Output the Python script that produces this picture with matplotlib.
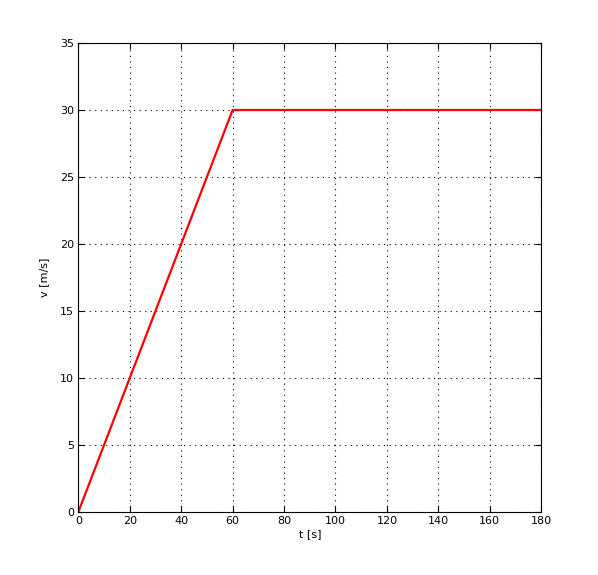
import matplotlib
matplotlib.use("Agg")
from matplotlib import pyplot as plt

# velocity profile: accelerate then constant speed
t = [0, 60, 180]
v = [0, 30, 30]

x_ticks = [0, 20, 40, 60, 80, 100, 120, 140, 160, 180]
y_ticks = [0, 5, 10, 15, 20, 25, 30, 35]

plt.rcParams['font.family'] = ['DejaVu Sans']
plt.rcParams['font.size'] = 8

f = plt.figure(figsize=(5.98, 5.75), dpi=100)
ax = f.add_axes([0.131, 0.1096, 0.774, 0.8156])

ax.plot(t, v, color='red', linewidth=1.6)

ax.set_xlim(0, 180)
ax.set_ylim(0, 35)
ax.set_xticks(x_ticks)
ax.set_yticks(y_ticks)
ax.tick_params(direction='in', length=4, width=0.8, top=True, right=True, pad=3)
ax.grid(True, linestyle=(0, (1, 4)), color='black', linewidth=0.8)
for s in ax.spines.values():
    s.set_linewidth(0.8)

ax.set_xlabel('t [s]', labelpad=2)
ax.set_ylabel('v [m/s]', labelpad=8)

f.savefig('out.png', dpi=100)
